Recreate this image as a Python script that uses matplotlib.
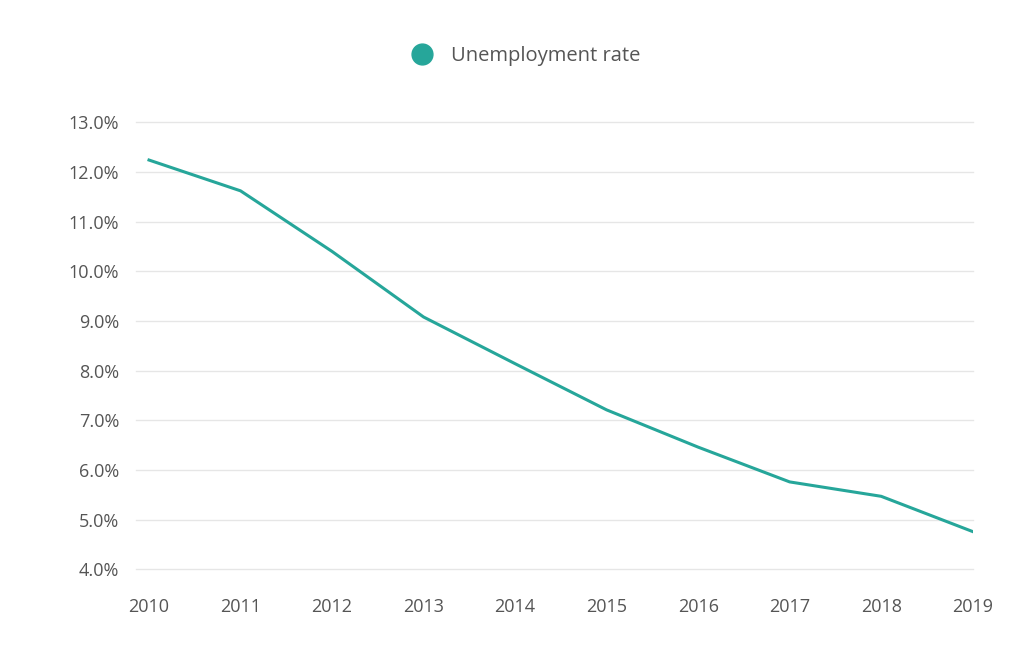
import matplotlib
matplotlib.use("Agg")
import matplotlib.pyplot as plt
from matplotlib.ticker import FuncFormatter
from matplotlib.lines import Line2D

years = [2010, 2011, 2012, 2013, 2014, 2015, 2016, 2017, 2018, 2019]
unemployment = [12.24, 11.62, 10.40, 9.08, 8.14, 7.21, 6.46, 5.76, 5.47, 4.76]
y_ticks = [4, 5, 6, 7, 8, 9, 10, 11, 12, 13]
series_name = "Unemployment rate"

plt.rcParams['font.family'] = ['Open Sans', 'DejaVu Sans']
color = "#26a69a"
text_color = "#555555"

fig = plt.figure(figsize=(10.24, 6.55), dpi=100)
ax = fig.add_axes([0.1328, 0.1308, 0.9499 - 0.1328, 0.8133 - 0.1308])
ax.plot(years, unemployment, color=color, linewidth=2.2, solid_joinstyle='round')

ax.set_xlim(2010 - 13 / 91.4, 2019)
ax.set_ylim(4, 13)
ax.set_yticks(y_ticks)
ax.set_xticks(years)
ax.yaxis.set_major_formatter(FuncFormatter(lambda v, p: f"{v:.1f}%"))
ax.grid(axis='y', color='#e6e6e6', linewidth=1)
for gl in ax.get_ygridlines():
    gl.set_clip_on(False)
ax.set_axisbelow(True)
for s in ax.spines.values():
    s.set_visible(False)
ax.tick_params(axis='both', length=0, labelsize=13, colors=text_color)
ax.tick_params(axis='y', pad=12)
ax.tick_params(axis='x', pad=21)

handle = Line2D([], [], linestyle='none', marker='o', markersize=15,
                markerfacecolor=color, markeredgecolor=color)
fig.legend([handle], [series_name], loc='center', bbox_to_anchor=(0.509, 0.915),
           frameon=False, fontsize=14.5, labelcolor=text_color, handletextpad=0.45)

fig.savefig("out.png", dpi=100, facecolor='white')
